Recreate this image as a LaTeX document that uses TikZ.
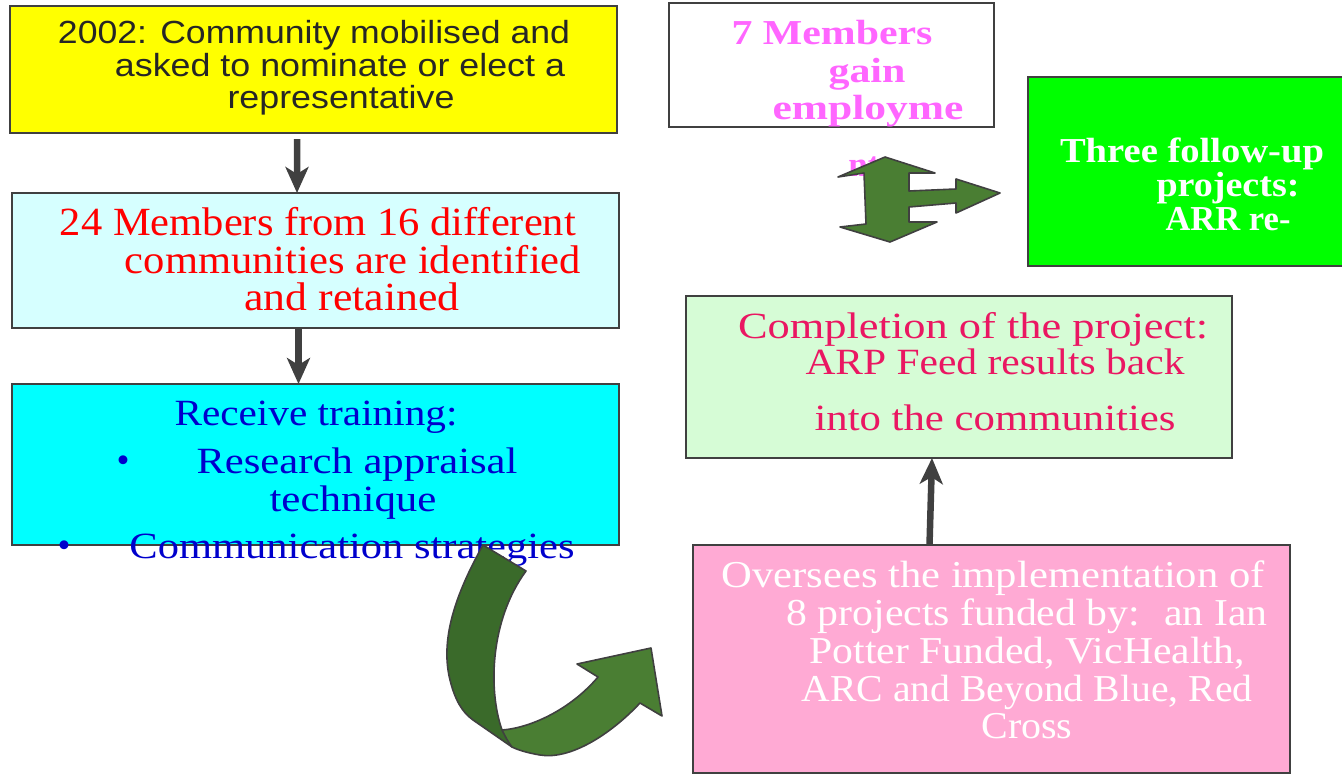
\documentclass[tikz,border=0pt]{standalone}
\usepackage{fontspec}
\usepackage{graphicx}
\setmainfont{Liberation Serif}
\newfontfamily\arialfont{Liberation Sans}
\usetikzlibrary{arrows.meta}

\definecolor{edge}{HTML}{404040}
\definecolor{boxyellow}{HTML}{FFFF00}
\definecolor{boxlcyan}{HTML}{D6FFFF}
\definecolor{boxcyan}{HTML}{00FFFF}
\definecolor{boxlgreen}{HTML}{D6FCD6}
\definecolor{boxgreen}{HTML}{00FF00}
\definecolor{boxpink}{HTML}{FFAAD4}
\definecolor{txtmagenta}{HTML}{FF66FF}
\definecolor{txtcrimson}{HTML}{EA1762}
\definecolor{txtblue}{HTML}{0000CC}
\definecolor{txtdark}{HTML}{262626}
\definecolor{ribbondark}{HTML}{3A6A2A}
\definecolor{ribbonlight}{HTML}{4A7E33}

% set a line of text at a given width (in bp), keeping its height
\newsavebox\linebox
\newcommand\fitto[2]{\sbox\linebox{#2}\pgfmathsetmacro\fitratio{#1*1.00375/\wd\linebox}\scalebox{\fitratio}[1]{\usebox\linebox}}

\tikzset{
  panel/.style={draw=edge, line width=2bp, inner sep=0pt, outer sep=0pt},
  ln/.style={anchor=base, inner sep=0pt, outer sep=0pt},
  conn/.style={draw=edge, line width=6.5bp, -{Stealth[length=26bp, width=23bp, inset=7bp]}},
  shapeedge/.style={draw=edge, line width=1.6bp, line join=round}
}

\begin{document}
\begin{tikzpicture}[x=1bp, y=-1bp]
\useasboundingbox (0,0) rectangle (1342,774);

% ---- panels ----
\node[panel, fill=boxyellow, minimum width=607bp, minimum height=127bp] (yel) at (313.5,69.5) {};
\node[panel, fill=boxlcyan, minimum width=607bp, minimum height=135bp] (mem) at (315.5,260.5) {};
\node[panel, fill=boxcyan, minimum width=607bp, minimum height=161bp] (trn) at (315.5,464.5) {};
\node[panel, fill=white, minimum width=325bp, minimum height=124bp] (emp) at (831.5,65) {};
\node[panel, fill=boxgreen, minimum width=318bp, minimum height=189bp] (fol) at (1187,171.5) {};
\node[panel, fill=boxlgreen, minimum width=546bp, minimum height=162bp] (cmp) at (959,377) {};
\node[panel, fill=boxpink, minimum width=597bp, minimum height=228bp] (ovr) at (991.5,659) {};

% ---- step 1 ----
\begin{scope}[every node/.append style={ln, text=txtdark, font=\arialfont\fontsize{32bp}{32bp}\selectfont}]
\node (y1) at (314,44) {\fitto{512}{2002: Community mobilised and}};
\node (y2) at (340,76) {\fitto{450}{asked to nominate or elect a}};
\node (y3) at (341,108) {\fitto{227}{representative}};
\end{scope}

% ---- step 2 ----
\begin{scope}[every node/.append style={ln, text=red, font=\fontsize{40bp}{40bp}\selectfont}]
\node (m1) at (318,235) {\fitto{516}{24 Members from 16 different}};
\node (m2) at (353,273) {\fitto{456}{communities are identified}};
\node (m3) at (352,310) {\fitto{215}{and retained}};
\end{scope}

% ---- step 3 ----
\begin{scope}[every node/.append style={ln, text=txtblue, font=\fontsize{37bp}{37bp}\selectfont}]
\node (r1) at (316,425) {\fitto{283}{Receive training:}};
\node (rb1) at (123,472) {•};
\node (r2) at (357,473) {\fitto{321}{Research appraisal}};
\node (r3) at (353,511) {\fitto{167}{technique}};
\node (rb2) at (64,557) {•};
\node (r4) at (352,558) {\fitto{445}{Communication strategies}};
\end{scope}

% ---- employment ----
\begin{scope}[every node/.append style={ln, text=txtmagenta, font=\bfseries\fontsize{35bp}{35bp}\selectfont}]
\node (e1) at (832,45) {\fitto{201}{7 Members}};
\node (e2) at (867,82) {\fitto{77}{gain}};
\node (e3) at (868,119) {\fitto{191}{employme}};
\node (e4) at (864,176) {nt};
\end{scope}

% ---- follow-up ----
\begin{scope}[every node/.append style={ln, text=white, font=\bfseries\fontsize{35bp}{35bp}\selectfont}]
\node (f1) at (1192,162) {\fitto{264}{Three follow-up}};
\node (f2) at (1228,196) {\fitto{143}{projects:}};
\node (f3) at (1228,230) {\fitto{125}{ARR re-}};
\end{scope}

% ---- completion ----
\begin{scope}[every node/.append style={ln, text=txtcrimson, font=\fontsize{37bp}{37bp}\selectfont}]
\node (c1) at (973,338) {\fitto{470}{Completion of the project:}};
\node (c2) at (995,374) {\fitto{379}{ARP Feed results back}};
\node (c3) at (995,430) {\fitto{361}{into the communities}};
\end{scope}

% ---- oversight ----
\begin{scope}[every node/.append style={ln, text=white, font=\fontsize{38bp}{38bp}\selectfont}]
\node (o1) at (993,587) {\fitto{543}{Oversees the implementation of}};
\node (o2) at (1027,625) {\fitto{481}{8 projects funded by:~ an Ian}};
\node (o3) at (1027,663) {\fitto{435}{Potter Funded, VicHealth,}};
\node (o4) at (1027,701) {\fitto{451}{ARC and Beyond Blue, Red}};
\node (o5) at (1027,738) {\fitto{91}{Cross}};
\end{scope}

% ---- straight connectors ----
\draw[conn] ([xshift=-16.5bp, yshift=-6bp]yel.south) -- ([xshift=-18.5bp]mem.north);
\draw[conn] ([xshift=-17bp]mem.south) -- ([xshift=-17bp]trn.north);
\draw[conn] ([xshift=-62bp]ovr.north) -- ([xshift=-27bp]cmp.south);

% ---- curved ribbon arrow ----
\fill[ribbondark] (483,545) .. controls (455,595) and (440,640) .. (450,680)
  .. controls (455,700) and (462,712) .. (473,720) -- (512,747) -- (502,730)
  .. controls (488,690) and (490,620) .. (526,571) -- cycle;
\draw[shapeedge] (483,545) .. controls (455,595) and (440,640) .. (450,680)
  .. controls (455,700) and (462,712) .. (473,720) -- (512,747);
\draw[shapeedge] (502,730) .. controls (488,690) and (490,620) .. (526,571) -- (483,545);
\filldraw[shapeedge, fill=ribbonlight] (502,730) .. controls (530,728) and (570,710) .. (598,677)
  -- (577,664) -- (651,648) -- (662,716) -- (640,703)
  .. controls (610,735) and (570,760) .. (540,755)
  .. controls (528,753) and (518,750) .. (512,747)
  .. controls (508,742) and (505,736) .. (502,730) -- cycle;

% ---- branching arrow ----
\filldraw[shapeedge, fill=ribbonlight] (885,157) -- (935,173) -- (909,173) -- (909,191)
  -- (956,189) -- (956,179) -- (1000,193) -- (956,213) -- (956,203) -- (909,207)
  -- (909,222) -- (937,222) -- (890,242) -- (840,227) -- (866,224) -- (864,173)
  -- (838,177) -- cycle;

\end{tikzpicture}
\end{document}
